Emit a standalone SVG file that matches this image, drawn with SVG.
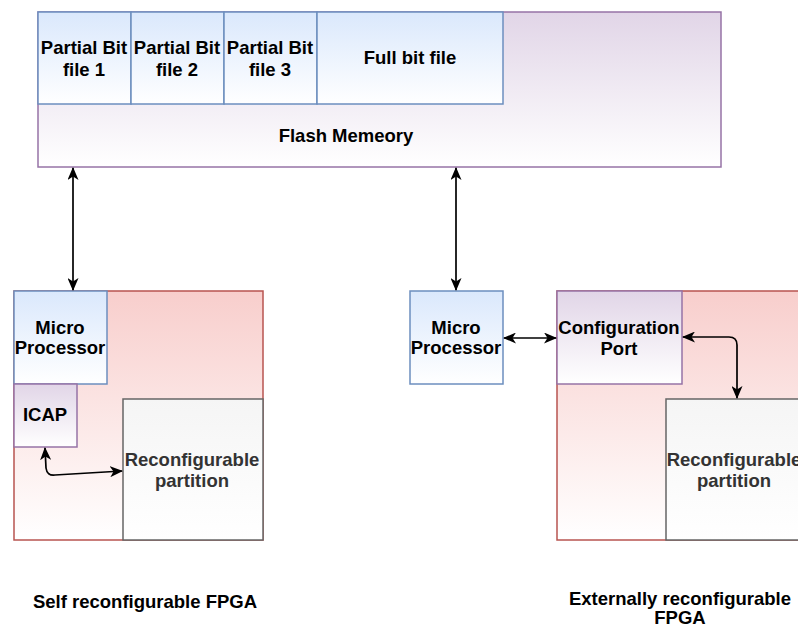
<svg xmlns="http://www.w3.org/2000/svg" width="798" height="628" viewBox="0 0 798 628">
  <defs>
    <linearGradient id="gBlue" x1="0" y1="0" x2="0" y2="1">
      <stop offset="0" stop-color="#dae8fc"/>
      <stop offset="1" stop-color="#ffffff"/>
    </linearGradient>
    <linearGradient id="gPurple" x1="0" y1="0" x2="0" y2="1">
      <stop offset="0" stop-color="#e1d5e7"/>
      <stop offset="1" stop-color="#ffffff"/>
    </linearGradient>
    <linearGradient id="gRed" x1="0" y1="0" x2="0" y2="1">
      <stop offset="0" stop-color="#f8cecc"/>
      <stop offset="1" stop-color="#ffffff"/>
    </linearGradient>
    <linearGradient id="gGrey" x1="0" y1="0" x2="0" y2="1">
      <stop offset="0" stop-color="#f5f5f5"/>
      <stop offset="1" stop-color="#ffffff"/>
    </linearGradient>
    <marker id="arr" viewBox="0 0 13 11" refX="12" refY="5.5" markerWidth="13" markerHeight="11" markerUnits="userSpaceOnUse" orient="auto-start-reverse">
      <path d="M0,0 L13,5.5 L0,11 L3.5,5.5 Z" fill="#000"/>
    </marker>
    <style>
      .blue { fill: url(#gBlue); stroke: #6c8ebf; stroke-width: 1.5; }
      .purple { fill: url(#gPurple); stroke: #9673a6; stroke-width: 1.5; }
      .red { fill: url(#gRed); stroke: #b85450; stroke-width: 1.5; }
      .grey { fill: url(#gGrey); stroke: #666666; stroke-width: 1.5; }
      text { font-family: "Liberation Sans", Arial, Helvetica, sans-serif; font-weight: bold; font-size: 18.5px; fill: #000; text-anchor: middle; }
      text.dim { fill: #333333; }
      .conn { fill: none; stroke: #000; stroke-width: 1.7; marker-start: url(#arr); marker-end: url(#arr); }
    </style>
  </defs>

  <rect width="798" height="628" fill="#ffffff"/>

  <!-- Flash memory with stored bit files -->
  <g id="flash">
    <rect class="purple" x="38" y="12" width="683" height="155"/>
    <text x="346" y="142">Flash Memeory</text>
  </g>
  <g id="pbf1">
    <rect class="blue" x="38" y="12" width="93" height="92"/>
    <text x="84" y="54">Partial Bit</text>
    <text x="84" y="76">file 1</text>
  </g>
  <g id="pbf2">
    <rect class="blue" x="131" y="12" width="93" height="92"/>
    <text x="177" y="54">Partial Bit</text>
    <text x="177" y="76">file 2</text>
  </g>
  <g id="pbf3">
    <rect class="blue" x="224" y="12" width="93" height="92"/>
    <text x="270" y="54">Partial Bit</text>
    <text x="270" y="76">file 3</text>
  </g>
  <g id="fullbit">
    <rect class="blue" x="317" y="12" width="186" height="92"/>
    <text x="410" y="64">Full bit file</text>
  </g>

  <!-- Self reconfigurable FPGA -->
  <g id="fpga-self">
    <rect class="red" x="14" y="291" width="249" height="249"/>
  </g>
  <g id="mp-self">
    <rect class="blue" x="14" y="291" width="93" height="93"/>
    <text x="60" y="334">Micro</text>
    <text x="60" y="354">Processor</text>
  </g>
  <g id="icap">
    <rect class="purple" x="14" y="384" width="63" height="63"/>
    <text x="45" y="421">ICAP</text>
  </g>
  <g id="rp-self">
    <rect class="grey" x="123" y="399" width="140" height="141"/>
    <text class="dim" x="192" y="466">Reconfigurable</text>
    <text class="dim" x="192" y="487">partition</text>
  </g>

  <!-- Externally reconfigurable FPGA -->
  <g id="mp-ext">
    <rect class="blue" x="410" y="291" width="93" height="93"/>
    <text x="456" y="334">Micro</text>
    <text x="456" y="354">Processor</text>
  </g>
  <g id="fpga-ext">
    <rect class="red" x="557" y="291" width="260" height="249"/>
  </g>
  <g id="cfgport">
    <rect class="purple" x="557" y="291" width="125" height="93"/>
    <text x="619" y="334">Configuration</text>
    <text x="619" y="355">Port</text>
  </g>
  <g id="rp-ext">
    <rect class="grey" x="666" y="399" width="150" height="141"/>
    <text class="dim" x="734" y="466">Reconfigurable</text>
    <text class="dim" x="734" y="487">partition</text>
  </g>

  <!-- Captions -->
  <g id="captions">
    <text x="145" y="608">Self reconfigurable FPGA</text>
    <text x="680" y="605">Externally reconfigurable</text>
    <text x="680" y="624">FPGA</text>
  </g>

  <!-- Connectors -->
  <g id="connectors">
    <path class="conn" d="M73,168 L73,290"/>
    <path class="conn" d="M456,168 L456,290"/>
    <path class="conn" d="M45,448 L46,468 Q47,476 55,475 L122,471"/>
    <path class="conn" d="M504,338 L556,338"/>
    <path class="conn" d="M683,337 L729,337 Q737,337 737,345 L737,398"/>
  </g>
</svg>
